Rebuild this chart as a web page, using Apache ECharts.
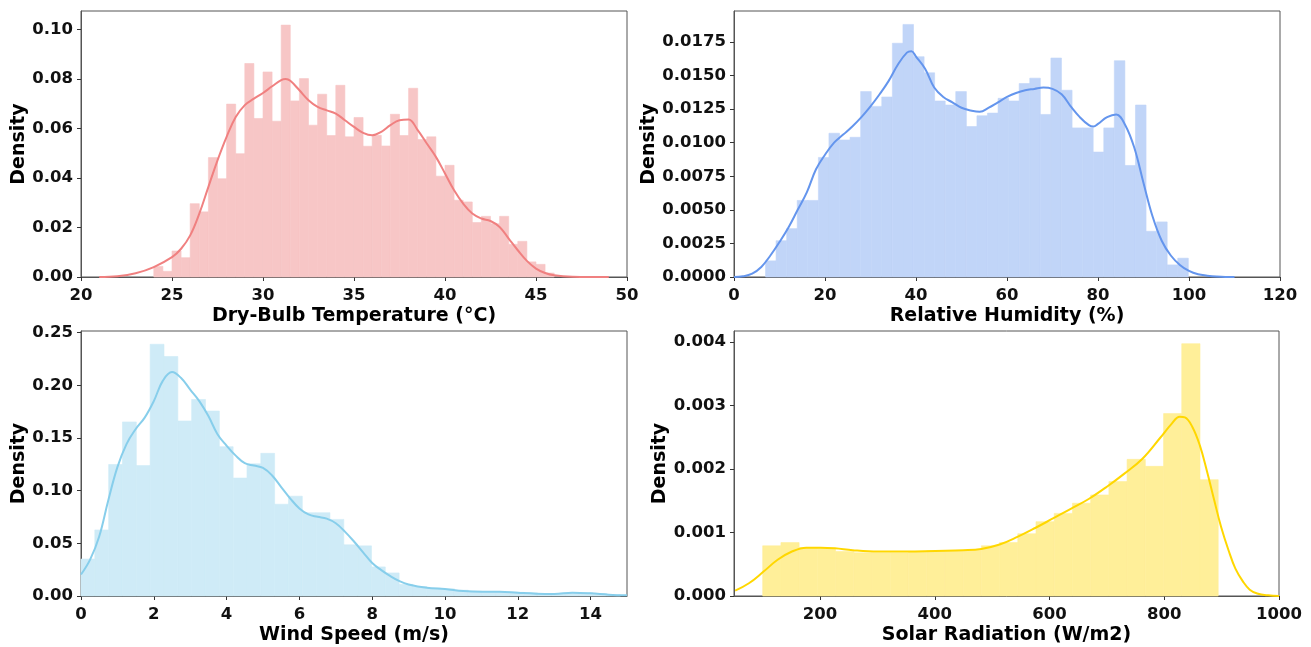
<!DOCTYPE html>
<html lang="en">
<head>
	<meta charset="UTF-8">
	<title>distributions</title>
	<script src="https://cdn.jsdelivr.net/npm/echarts@6/dist/echarts.min.js"></script>
	<style>
		html, body { margin: 0; padding: 0; background: #fff; }
		#main { width: 1311px; height: 647px; }
	</style>
</head>
<body>
	<div id="main"></div>
	<script>
		// ---- Dry-bulb temperature ----
		var tempEdges = [24.0, 24.5, 25.0, 25.5, 26.0, 26.5, 27.0, 27.5, 28.0, 28.5, 29.0, 29.5, 30.0, 30.5, 31.0, 31.5,
			32.0, 32.5, 33.0, 33.5, 34.0, 34.5, 35.0, 35.5, 36.0, 36.5, 37.0, 37.5, 38.0, 38.5, 39.0, 39.5,
			40.0, 40.5, 41.0, 41.5, 42.0, 42.5, 43.0, 43.5, 44.0, 44.5, 45.0, 45.5, 46.0];
		var tempHist = [0.0043, 0.0023, 0.0105, 0.0078, 0.0296, 0.0263, 0.0482, 0.0397, 0.0698, 0.0498, 0.0862, 0.0640,
			0.0828, 0.0629, 0.1017, 0.0711, 0.0801, 0.0613, 0.0738, 0.0571, 0.0774, 0.0566, 0.0644, 0.0528,
			0.0572, 0.0529, 0.0657, 0.0571, 0.0762, 0.0555, 0.0566, 0.0407, 0.0451, 0.0310, 0.0303, 0.0220,
			0.0245, 0.0215, 0.0245, 0.0132, 0.0144, 0.0061, 0.0051, 0.0016];
		var tempKdeX = [21, 22, 23, 24, 25, 25.5, 26, 26.5, 27, 27.5, 28, 28.5, 29, 29.5, 30, 30.5, 31, 31.25, 31.5, 32,
			32.5, 33, 33.5, 34, 34.5, 35, 35.5, 36, 36.5, 37, 37.5, 38, 38.5, 39, 39.5, 40, 40.5, 41, 41.5, 42,
			42.5, 43, 43.5, 44, 44.5, 45, 45.5, 46, 47, 48, 49];
		var tempKdeY = [0, 0.0003, 0.0015, 0.004, 0.008, 0.0114, 0.0168, 0.0256, 0.0364, 0.0471, 0.0566, 0.0646, 0.0694,
			0.072, 0.0743, 0.077, 0.0795, 0.0799, 0.0792, 0.0754, 0.0714, 0.0687, 0.0673, 0.066, 0.0633, 0.0606,
			0.0582, 0.0572, 0.0586, 0.0613, 0.0633, 0.0636, 0.0593, 0.0539, 0.0485, 0.0418, 0.035, 0.0296,
			0.0256, 0.0236, 0.0226, 0.0202, 0.0155, 0.0108, 0.0065, 0.0034, 0.0016, 0.0007, 0.0001, 0, 0];
		var tempXTicks = [20, 25, 30, 35, 40, 45, 50];
		var tempYTicks = [0, 0.02, 0.04, 0.06, 0.08, 0.10];

		// ---- Relative humidity ----
		var rhEdges = [6.93, 9.25, 11.58, 13.90, 16.22, 18.55, 20.87, 23.19, 25.51, 27.84, 30.16, 32.48, 34.81, 37.13,
			39.45, 41.78, 44.10, 46.42, 48.74, 51.07, 53.39, 55.71, 58.04, 60.36, 62.68, 65.01, 67.33, 69.65,
			71.97, 74.30, 76.62, 78.94, 81.27, 83.59, 85.91, 88.24, 90.56, 92.88, 95.20, 97.53, 99.85];
		var rhHist = [0.0012, 0.0027, 0.0036, 0.0057, 0.0057, 0.0089, 0.0107, 0.0102, 0.0104, 0.0138, 0.0127, 0.0134,
			0.0174, 0.0188, 0.0164, 0.0152, 0.0131, 0.0128, 0.0138, 0.0112, 0.0120, 0.0122, 0.0133, 0.0131,
			0.0144, 0.0148, 0.0121, 0.0163, 0.0139, 0.0111, 0.0111, 0.0093, 0.0111, 0.0161, 0.0083, 0.0128,
			0.0034, 0.0041, 0.0009, 0.0014];
		var rhKdeX = [0, 2, 4, 6, 8, 10, 12, 14, 16, 18, 20, 22, 24, 26, 28, 30, 32, 34, 36, 38, 39, 40, 42, 44, 46, 48,
			50, 52, 54, 56, 58, 60, 62, 64, 66, 68, 70, 72, 74, 76, 78, 79, 80, 82, 84, 86, 88, 90, 92, 94, 96,
			98, 100, 102, 104, 106, 108, 110];
		var rhKdeY = [0, 0.00005, 0.00025, 0.00075, 0.0016, 0.0026, 0.0037, 0.005, 0.0063, 0.008, 0.0091, 0.01, 0.0106,
			0.0112, 0.0119, 0.0127, 0.0136, 0.0146, 0.0158, 0.0167, 0.0168, 0.0164, 0.0155, 0.0141, 0.0134,
			0.013, 0.0126, 0.0124, 0.0123, 0.0126, 0.013, 0.0134, 0.0137, 0.0139, 0.014, 0.0141, 0.014, 0.0136,
			0.0127, 0.0119, 0.0113, 0.0112, 0.0114, 0.0119, 0.0121, 0.0113, 0.0096, 0.007, 0.0045, 0.0027,
			0.0016, 0.0009, 0.00045, 0.0002, 0.0001, 0.00003, 0, 0];
		var rhXTicks = [0, 20, 40, 60, 80, 100, 120];
		var rhYTicks = [0, 0.0025, 0.005, 0.0075, 0.01, 0.0125, 0.015, 0.0175];

		// ---- Wind speed ----
		var wsEdges = [0, 0.38, 0.76, 1.14, 1.52, 1.90, 2.28, 2.66, 3.04, 3.42, 3.80, 4.18, 4.56, 4.94, 5.32, 5.70,
			6.08, 6.46, 6.84, 7.22, 7.60, 7.98, 8.36, 8.74, 9.12, 9.50, 9.88, 10.26, 10.64, 11.02, 11.40, 11.78,
			12.16, 12.54, 12.92, 13.30, 13.68, 14.06, 14.44, 14.82];
		var wsHist = [0.0351, 0.0627, 0.1248, 0.1652, 0.1238, 0.2389, 0.2273, 0.1661, 0.1865, 0.1755, 0.1417, 0.1119,
			0.1254, 0.1354, 0.0871, 0.0947, 0.0790, 0.0790, 0.0727, 0.0486, 0.0476, 0.0276, 0.0219, 0.0110,
			0.0090, 0.0075, 0.0068, 0.0055, 0.0045, 0.0040, 0.0038, 0.0035, 0.0030, 0.0022, 0.0018, 0.0025,
			0.0030, 0.0022, 0.0012];
		var wsKdeX = [0, 0.25, 0.5, 0.75, 1, 1.25, 1.5, 1.75, 2, 2.25, 2.5, 2.75, 3, 3.25, 3.5, 3.75, 4, 4.25, 4.5,
			4.75, 5, 5.25, 5.5, 5.75, 6, 6.25, 6.5, 6.75, 7, 7.25, 7.5, 7.75, 8, 8.25, 8.5, 8.75, 9, 9.5, 10,
			10.5, 11, 11.5, 12, 12.5, 13, 13.5, 14, 14.5, 15];
		var wsKdeY = [0.0204, 0.0345, 0.0564, 0.0909, 0.1223, 0.1442, 0.1583, 0.1693, 0.185, 0.2044, 0.2125, 0.2069,
			0.1959, 0.185, 0.1708, 0.1536, 0.1426, 0.1332, 0.126, 0.1238, 0.1216, 0.1144, 0.1034, 0.0925,
			0.0831, 0.0774, 0.0752, 0.0734, 0.069, 0.0611, 0.0517, 0.0414, 0.0313, 0.0245, 0.0188, 0.0141,
			0.011, 0.0078, 0.0066, 0.0047, 0.0041, 0.0041, 0.0031, 0.0022, 0.0019, 0.0031, 0.0025, 0.0013, 0.0006];
		var wsXTicks = [0, 2, 4, 6, 8, 10, 12, 14];
		var wsYTicks = [0, 0.05, 0.10, 0.15, 0.20, 0.25];

		// ---- Solar radiation ----
		var srEdges = [100, 131.8, 163.5, 195.3, 227.0, 258.8, 290.6, 322.4, 354.1, 385.9, 417.6, 449.4, 481.2,
			512.9, 544.7, 576.4, 608.2, 640.0, 671.7, 703.5, 735.2, 767.0, 798.8, 830.5, 862.3, 894.0];
		var srHist = [0.00079, 0.00084, 0.00076, 0.00075, 0.00070, 0.00068, 0.00068, 0.00068, 0.00070, 0.00071,
			0.00071, 0.00072, 0.00079, 0.00084, 0.00098, 0.00117, 0.00130, 0.00146, 0.00159, 0.00180,
			0.00215, 0.00204, 0.00287, 0.00397, 0.00183];
		var srKdeX = [52, 76, 101, 126, 151, 176, 201, 226, 257, 301, 351, 401, 450, 481, 513, 544, 575, 606, 637,
			669, 700, 731, 762, 793, 812, 827, 836, 849, 862, 874, 887, 899, 912, 924, 937, 949, 962, 981, 1000];
		var srKdeY = [0.000084, 0.0002, 0.00038, 0.00057, 0.0007, 0.00076, 0.00076, 0.00075, 0.00072, 0.0007,
			0.0007, 0.00071, 0.00072, 0.00074, 0.00081, 0.00093, 0.00107, 0.00122, 0.00137, 0.00153, 0.00172,
			0.00193, 0.00216, 0.00249, 0.0027, 0.00282, 0.00281, 0.00266, 0.00237, 0.00198, 0.00151, 0.00109,
			0.00072, 0.00043, 0.00023, 0.0001, 0.00004, 0.00001, 0];
		var srXTicks = [200, 400, 600, 800, 1000];
		var srYTicks = [0, 0.001, 0.002, 0.003, 0.004];

		var FONT = 'DejaVu Sans';

		function bins(edges, heights) {
			var out = [];
			for (var i = 0; i < heights.length; i++) out.push([edges[i], edges[i + 1], heights[i]]);
			return out;
		}
		function pairs(xs, ys) {
			return xs.map(function (x, i) { return [x, ys[i]]; });
		}
		// bars are drawn opaque (colour already blended with white) so neighbours don't show seams
		function histSeries(idx, edges, heights, fill) {
			return {
				type: 'custom',
				xAxisIndex: idx,
				yAxisIndex: idx,
				encode: { x: [0, 1], y: 2 },
				data: bins(edges, heights),
				renderItem: function (params, api) {
					var a = api.coord([api.value(0), api.value(2)]);
					var b = api.coord([api.value(1), 0]);
					return {
						type: 'rect',
						shape: { x: a[0], y: a[1], width: b[0] - a[0], height: b[1] - a[1] },
						style: { fill: fill, stroke: fill, lineWidth: 0.6 }
					};
				},
				z: 1
			};
		}
		function kdeSeries(idx, xs, ys, color) {
			return {
				type: 'line',
				xAxisIndex: idx,
				yAxisIndex: idx,
				data: pairs(xs, ys),
				smooth: 0.4,
				showSymbol: false,
				lineStyle: { color: color, width: 2 },
				z: 3
			};
		}
		function xAxis(idx, name, min, max, ticks) {
			return {
				type: 'value', gridIndex: idx, min: min, max: max,
				name: name, nameLocation: 'middle', nameGap: 30,
				nameTextStyle: { fontFamily: FONT, fontWeight: 'bold', fontSize: 19, color: '#000' },
				axisLine: { show: true, lineStyle: { color: '#555' } },
				axisTick: { show: true, length: 4, customValues: ticks, lineStyle: { color: '#333' } },
				axisLabel: {
					customValues: ticks, margin: 10, fontFamily: FONT, fontWeight: 'bold', fontSize: 16.5, color: '#111',
					formatter: function (v) { return String(v); }
				},
				splitLine: { show: false }
			};
		}
		function yAxis(idx, max, ticks, digits, gap) {
			return {
				type: 'value', gridIndex: idx, min: 0, max: max,
				name: 'Density', nameLocation: 'middle', nameGap: gap, nameRotate: 90,
				nameTextStyle: { fontFamily: FONT, fontWeight: 'bold', fontSize: 19, color: '#000' },
				axisLine: { show: true, lineStyle: { color: '#555' } },
				axisTick: { show: true, length: 4, customValues: ticks, lineStyle: { color: '#333' } },
				axisLabel: {
					customValues: ticks, margin: 8, fontFamily: FONT, fontWeight: 'bold', fontSize: 16.5, color: '#111',
					formatter: function (v) { return v.toFixed(digits); }
				},
				splitLine: { show: false }
			};
		}
		function grid(left, top, width, height) {
			return { left: left, top: top, width: width, height: height, show: true, borderColor: '#555', borderWidth: 1, backgroundColor: 'transparent' };
		}

		var myChart = echarts.init(document.getElementById('main'));
		var option = {
			animation: false,
			backgroundColor: '#fff',
			grid: [
				grid(81, 11, 546, 266),
				grid(734, 11, 546, 266),
				grid(81, 331, 546, 265),
				grid(734, 331, 545, 265)
			],
			xAxis: [
				xAxis(0, 'Dry-Bulb Temperature (°C)', 20, 50, tempXTicks),
				xAxis(1, 'Relative Humidity (%)', 0, 120, rhXTicks),
				xAxis(2, 'Wind Speed (m/s)', 0, 15, wsXTicks),
				xAxis(3, 'Solar Radiation (W/m2)', 50, 1000, srXTicks)
			],
			yAxis: [
				yAxis(0, 0.1074, tempYTicks, 2, 51),
				yAxis(1, 0.0198, rhYTicks, 4, 74),
				yAxis(2, 0.2515, wsYTicks, 2, 51),
				yAxis(3, 0.00417, srYTicks, 3, 63)
			],
			series: [
				histSeries(0, tempEdges, tempHist, '#F7C6C6'),
				kdeSeries(0, tempKdeX, tempKdeY, '#F08080'),
				histSeries(1, rhEdges, rhHist, '#C1D5F8'),
				kdeSeries(1, rhKdeX, rhKdeY, '#6495ED'),
				histSeries(2, wsEdges, wsHist, '#CFEBF7'),
				kdeSeries(2, wsKdeX, wsKdeY, '#87CEEB'),
				histSeries(3, srEdges, srHist, '#FFEF99'),
				kdeSeries(3, srKdeX, srKdeY, '#FFD700')
			]
		};
		myChart.setOption(option);
	</script>
</body>
</html>
